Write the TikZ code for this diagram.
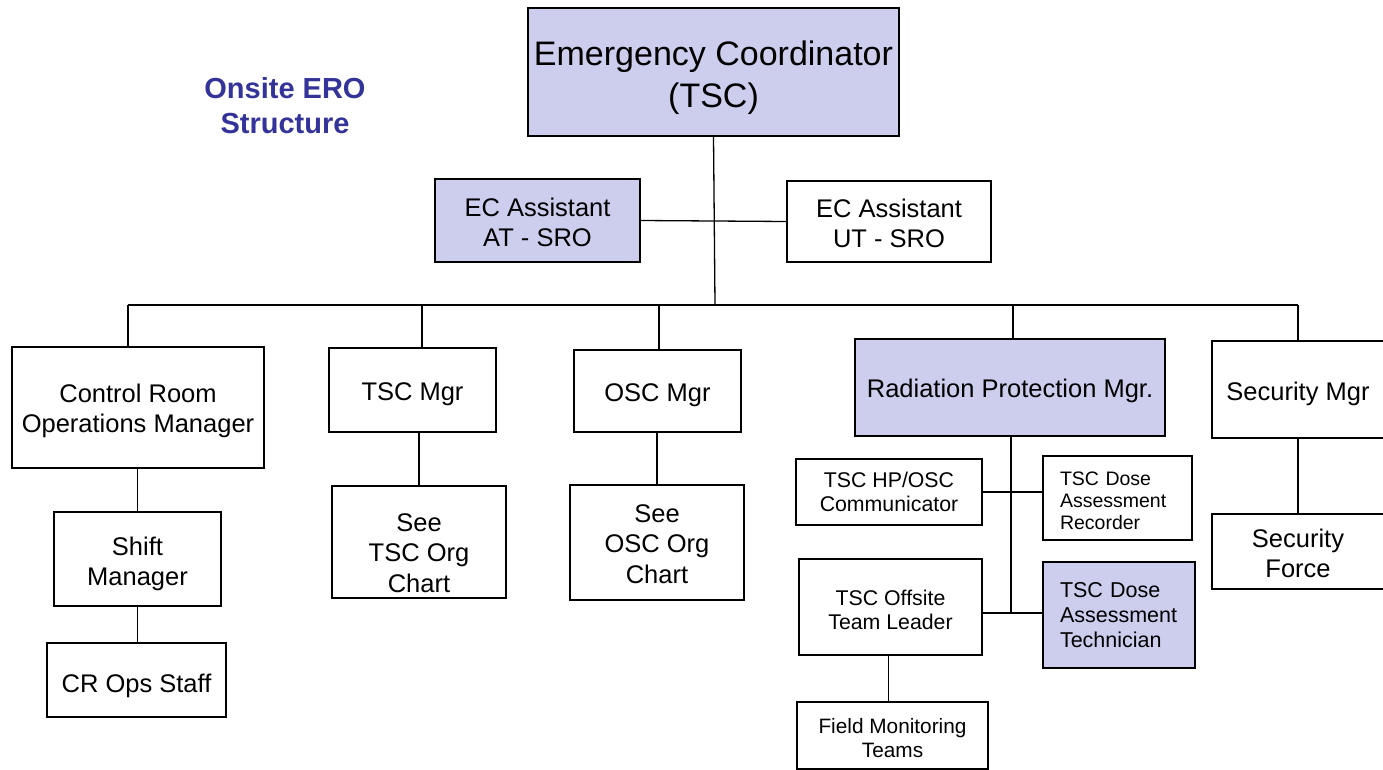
\documentclass[tikz,border=0pt]{standalone}
\usepackage{fontspec}
\setmainfont{Liberation Sans}
\definecolor{lav}{RGB}{205,205,238}
\definecolor{ttl}{RGB}{51,51,153}
\tikzset{
  box/.style={draw=black, line width=1.3pt, inner sep=0pt, align=center, text=black},
  fbox/.style={box, fill=lav},
  conn/.style={draw=black, line width=1.3pt},
  big/.style={font=\fontsize{25.5}{30}\selectfont},
  small/.style={font=\fontsize{21.3}{24}\selectfont},
  txt/.style={label={[align=center, inner sep=0pt, #1]center:}},
}
\begin{document}
\begin{tikzpicture}[x=1pt,y=-1pt]
\useasboundingbox (0,0) rectangle (1383,770);
% title
\node[font=\fontsize{29}{35}\selectfont\bfseries, text=ttl, align=center] (title) at (285,106) {Onsite ERO\\ Structure};
% top
\node[fbox, minimum width=371, minimum height=128,
  label={[align=center, font=\fontsize{34}{42}\selectfont, yshift=-5.5pt]center:{Emergency Coordinator\\ (TSC)}}] (ec) at (713.5,72) {};
\node[fbox, minimum width=205, minimum height=83,
  label={[align=center, big, yshift=-1.5pt]center:{EC Assistant\\ AT - SRO}}] (at) at (537.5,220.5) {};
\node[box, minimum width=204, minimum height=81,
  label={[align=center, big, yshift=-1.5pt]center:{EC Assistant\\ UT - SRO}}] (ut) at (889,221.5) {};
% level 2
\node[box, minimum width=252, minimum height=121,
  label={[align=center, big, yshift=-3pt]center:{Control Room\\ Operations Manager}}] (crom) at (138,407.5) {};
\node[box, minimum width=167, minimum height=84,
  label={[align=center, big, yshift=-4pt]center:{TSC Mgr}}] (tscm) at (412.5,390) {};
\node[box, minimum width=167, minimum height=82,
  label={[align=center, big, yshift=-4pt]center:{OSC Mgr}}] (oscm) at (657.5,391) {};
\node[fbox, minimum width=310, minimum height=97,
  label={[align=center, big, yshift=-3pt]center:{Radiation Protection Mgr.}}] (rpm) at (1010,387.5) {};
\node[box, minimum width=172, minimum height=97,
  label={[align=center, big, yshift=-4pt]center:{Security Mgr}}] (secm) at (1298,389.5) {};
% level 3 left
\node[box, minimum width=167, minimum height=94,
  label={[align=center, big, yshift=-5pt]center:{Shift\\ Manager}}] (shift) at (137.5,559) {};
\node[box, minimum width=179, minimum height=74,
  label={[align=center, big, yshift=-6pt]center:{CR Ops Staff}}] (crops) at (136.5,680) {};
\node[box, minimum width=174, minimum height=112,
  label={[align=center, font=\fontsize{25.5}{30.5}\selectfont, yshift=-11pt]center:{See\\ TSC Org\\ Chart}}] (tscoc) at (419,542) {};
\node[box, minimum width=174, minimum height=115,
  label={[align=center, font=\fontsize{25.5}{30.5}\selectfont, yshift=-1.5pt]center:{See\\ OSC Org\\ Chart}}] (oscoc) at (657,542.5) {};
% RP subtree
\node[box, minimum width=186, minimum height=66,
  label={[align=center, small]center:{TSC HP/OSC\\ Communicator}}] (hp) at (889,492) {};
\node[box, minimum width=149, minimum height=84,
  label={[align=left, text width=115, font=\fontsize{19.5}{22}\selectfont, yshift=-2.5pt]center:{TSC Dose\\ Assessment\\ Recorder}}] (rec) at (1117.5,498) {};
\node[box, minimum width=183, minimum height=96,
  label={[align=center, small, yshift=-2.5pt]center:{TSC Offsite\\ Team Leader}}] (otl) at (890.5,607) {};
\node[fbox, minimum width=152, minimum height=106,
  label={[align=left, text width=118, font=\fontsize{21.5}{25}\selectfont]center:{TSC Dose\\ Assessment\\ Technician}}] (tech) at (1119,615) {};
\node[box, minimum width=191, minimum height=67,
  label={[align=center, font=\fontsize{20.8}{24}\selectfont, yshift=-2.5pt]center:{Field Monitoring\\ Teams}}] (fmt) at (892.5,735.5) {};
% security
\node[box, minimum width=172, minimum height=75,
  label={[align=center, big, yshift=-2pt]center:{Security\\ Force}}] (secf) at (1298,551.5) {};
% connectors
\coordinate (busL) at (128,305);
\coordinate (busR) at (1298,305);
\coordinate (busM) at (715,305);
\draw[conn] (busL) -- (busR);
\draw[conn] (ec.south) -- (busM);
\draw[conn] (at.east) -- (ut.west);
\draw[conn] ([xshift=-10pt]crom.north) -- ([xshift=-10pt]crom.north |- busL);
\draw[conn] ([xshift=9.5pt]tscm.north) -- ([xshift=9.5pt]tscm.north |- busL);
\draw[conn] ([xshift=1.5pt]oscm.north) -- ([xshift=1.5pt]oscm.north |- busL);
\draw[conn] ([xshift=3pt]rpm.north) -- ([xshift=3pt]rpm.north |- busL);
\draw[conn] (secm.north) -- (busR);
\draw[conn] (crom.south -| shift.north) -- (shift.north);
\draw[conn] (shift.south) -- (shift.south |- crops.north);
\draw[conn] (tscm.south -| tscoc.north) -- (tscoc.north);
\draw[conn] (oscoc.north) -- (oscoc.north |- oscm.south);
\draw[conn] (secm.south -| secf.north) -- (secf.north);
\coordinate (rpend) at (1011,613);
\draw[conn] (rpm.south -| rpend) -- (rpend);
\draw[conn] (hp.east) -- (hp.east -| rec.west);
\draw[conn] (otl.east |- rpend) -- (rpend -| tech.west);
\draw[conn] ([xshift=-2pt]otl.south) -- ([xshift=-2pt]otl.south |- fmt.north);
\end{tikzpicture}
\end{document}
